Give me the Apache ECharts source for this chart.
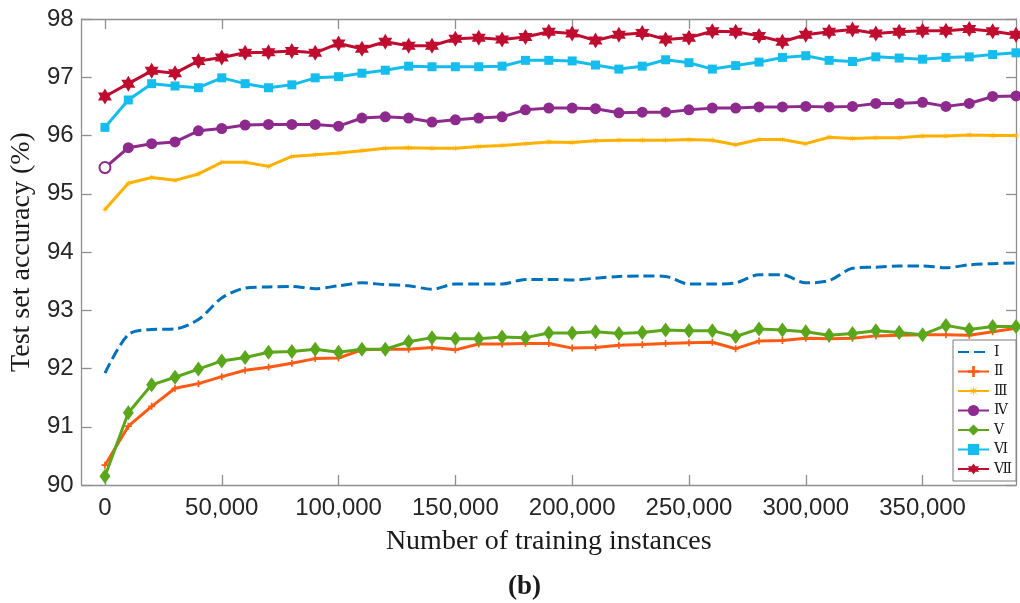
<!DOCTYPE html>
<html>
<head>
<meta charset="utf-8">
<script src="https://cdn.jsdelivr.net/npm/echarts@6/dist/echarts.min.js"></script>
<style>
html,body{margin:0;padding:0;background:#fff;}
#chart{width:1020px;height:603px;}
</style>
</head>
<body>
<div id="chart"></div>
<script>
// ---- Data ----
const xValues = [0,10000,20000,30000,40000,50000,60000,70000,80000,90000,100000,110000,120000,130000,140000,150000,160000,170000,180000,190000,200000,210000,220000,230000,240000,250000,260000,270000,280000,290000,300000,310000,320000,330000,340000,350000,360000,370000,380000,390000];
const xTicks = [0,50000,100000,150000,200000,250000,300000,350000];
const yTicks = [90,91,92,93,94,95,96,97,98];
const seriesNames = ['Ⅰ','Ⅱ','Ⅲ','Ⅳ','Ⅴ','Ⅵ','Ⅶ'];

const s1 = [91.92,92.58,92.67,92.68,92.84,93.21,93.38,93.40,93.41,93.37,93.42,93.47,93.44,93.42,93.36,93.45,93.45,93.45,93.53,93.53,93.52,93.55,93.58,93.59,93.58,93.45,93.45,93.47,93.61,93.61,93.47,93.51,93.72,93.74,93.76,93.76,93.73,93.78,93.80,93.81];
const s2 = [90.34,91.01,91.35,91.66,91.74,91.86,91.97,92.02,92.09,92.17,92.18,92.32,92.33,92.33,92.36,92.32,92.42,92.42,92.43,92.43,92.35,92.36,92.40,92.41,92.43,92.44,92.45,92.34,92.47,92.48,92.52,92.51,92.52,92.56,92.57,92.58,92.58,92.57,92.63,92.69];
const s3 = [94.73,95.18,95.28,95.23,95.34,95.54,95.54,95.47,95.64,95.67,95.70,95.74,95.78,95.79,95.78,95.78,95.81,95.83,95.86,95.89,95.88,95.91,95.92,95.92,95.92,95.93,95.92,95.84,95.93,95.93,95.86,95.97,95.95,95.96,95.96,95.99,95.99,96.01,96.00,96.00];
const s4 = [95.45,95.79,95.86,95.89,96.08,96.12,96.18,96.19,96.19,96.19,96.16,96.30,96.32,96.30,96.23,96.27,96.30,96.32,96.44,96.47,96.47,96.46,96.39,96.40,96.40,96.44,96.47,96.47,96.49,96.49,96.50,96.49,96.50,96.55,96.55,96.57,96.50,96.55,96.67,96.68];
const s5 = [90.15,91.24,91.72,91.85,91.99,92.13,92.19,92.28,92.29,92.33,92.28,92.33,92.33,92.46,92.53,92.51,92.51,92.54,92.53,92.61,92.61,92.63,92.60,92.62,92.66,92.65,92.65,92.55,92.68,92.66,92.63,92.57,92.60,92.65,92.62,92.58,92.74,92.67,92.72,92.72];
const s6 = [96.14,96.61,96.89,96.85,96.82,96.99,96.89,96.82,96.87,96.99,97.01,97.07,97.12,97.19,97.18,97.18,97.18,97.19,97.29,97.29,97.28,97.21,97.14,97.19,97.30,97.25,97.14,97.20,97.26,97.34,97.37,97.29,97.27,97.35,97.33,97.31,97.34,97.35,97.39,97.42];
const s7 = [96.67,96.89,97.11,97.07,97.28,97.34,97.42,97.43,97.45,97.42,97.58,97.49,97.61,97.54,97.54,97.66,97.68,97.65,97.69,97.78,97.75,97.63,97.73,97.76,97.65,97.68,97.79,97.78,97.71,97.61,97.73,97.78,97.82,97.75,97.78,97.80,97.80,97.83,97.79,97.73];

// ---- Styling ----
const colors = ['#0072BD','#FF5A14','#FFB000','#8E2A8E','#5BA71B','#14BDEE','#C00C2F'];
const hexagram = 'path://M100,0 L128.87,50 L186.6,50 L157.7,100 L186.6,150 L128.87,150 L100,200 L71.13,150 L13.4,150 L42.3,100 L13.4,50 L71.13,50 Z';
const plusSym = 'path://M38,0 H62 V38 H100 V62 H62 V100 H38 V62 H0 V38 H38 Z';
const asterSym = 'path://M100,50 L61.09,54.59 L85.36,85.36 L54.59,61.09 L50,100 L45.41,61.09 L14.64,85.36 L38.91,54.59 L0,50 L38.91,45.41 L14.64,14.64 L45.41,38.91 L50,0 L54.59,38.91 L85.36,14.64 L61.09,45.41 Z';

const symbols = ['none', plusSym, asterSym, 'circle', 'diamond', 'rect', hexagram];
const symbolSizes = [0, 7, 8, 11, [11,15], 9, [14,16]];
const allData = [s1,s2,s3,s4,s5,s6,s7];

const axisColor = '#8f8f8f';
const tickFont = "'Liberation Sans', Arial, sans-serif";
const serifFont = "'Liberation Serif', 'Times New Roman', serif";

const series = allData.map((vals, k) => {
  const data = vals.map((v, i) => [xValues[i], v]);
  if (k === 3) {
    data[0] = { value: data[0], itemStyle: { color: '#fff', borderColor: colors[3], borderWidth: 2 } };
  }
  return {
    name: seriesNames[k],
    type: 'line',
    xAxisIndex: 0,
    yAxisIndex: 0,
    data: data,
    symbol: symbols[k],
    symbolSize: symbolSizes[k],
    showSymbol: k !== 0,
    showAllSymbol: true,
    smooth: k === 0 ? 0.3 : false,
    color: colors[k],
    lineStyle: { width: 3, color: colors[k], type: k === 0 ? [11, 5] : 'solid' },
    itemStyle: { color: colors[k] },
    emphasis: { disabled: true },
    z: 2 + k
  };
});

const legendData = seriesNames.map((n, k) => k === 0
  ? { name: n, itemStyle: { color: 'rgba(0,0,0,0)', borderWidth: 0, opacity: 0 } }
  : { name: n });

const chart = echarts.init(document.getElementById('chart'), null, { renderer: 'canvas' });
const fmt = v => Number(v).toLocaleString('en-US');

chart.setOption({
  animation: false,
  backgroundColor: '#fff',
  grid: { left: 81, right: 4, top: 19, bottom: 118, containLabel: false },
  xAxis: [
    {
      type: 'value', position: 'bottom', min: -10000, max: 390000,
      name: 'Number of training instances', nameLocation: 'middle', nameGap: 43,
      nameTextStyle: { fontFamily: serifFont, fontSize: 28, color: '#1a1a1a' },
      axisLine: { show: true, onZero: false, lineStyle: { color: axisColor, width: 1.3 } },
      axisTick: { show: true, inside: true, length: 10, customValues: xTicks, lineStyle: { color: axisColor, width: 1.3 } },
      axisLabel: { customValues: xTicks, formatter: fmt, fontFamily: tickFont, fontSize: 24, color: '#262626', margin: 11 },
      splitLine: { show: false }
    },
    {
      type: 'value', position: 'top', min: -10000, max: 390000,
      axisLine: { show: true, onZero: false, lineStyle: { color: axisColor, width: 1.3 } },
      axisTick: { show: true, inside: true, length: 10, customValues: xTicks, lineStyle: { color: axisColor, width: 1.3 } },
      axisLabel: { show: false },
      splitLine: { show: false }
    }
  ],
  yAxis: [
    {
      type: 'value', position: 'left', min: 90, max: 98, interval: 1,
      name: 'Test set accuracy (%)', nameLocation: 'middle', nameGap: 35,
      nameTextStyle: { fontFamily: serifFont, fontSize: 28, color: '#1a1a1a' },
      axisLine: { show: true, onZero: false, lineStyle: { color: axisColor, width: 1.3 } },
      axisTick: { show: true, inside: true, length: 10, customValues: yTicks, lineStyle: { color: axisColor, width: 1.3 } },
      axisLabel: { customValues: yTicks, fontFamily: tickFont, fontSize: 24, color: '#262626', margin: 8 },
      splitLine: { show: false }
    },
    {
      type: 'value', position: 'right', min: 90, max: 98, interval: 1,
      axisLine: { show: true, onZero: false, lineStyle: { color: axisColor, width: 1.3 } },
      axisTick: { show: true, inside: true, length: 10, lineStyle: { color: axisColor, width: 1.3 } },
      axisLabel: { show: false },
      splitLine: { show: false }
    }
  ],
  legend: {
    data: legendData,
    orient: 'vertical',
    left: 953, top: 340,
    padding: [5, 4, 5, 4],
    itemWidth: 31, itemHeight: 14, itemGap: 5.5,
    backgroundColor: '#fff',
    borderColor: '#7a7a7a', borderWidth: 1, borderRadius: 0,
    textStyle: { fontFamily: "'DejaVu Serif', 'Liberation Serif', serif", fontSize: 14, color: '#1a1a1a', lineHeight: 14 },
    selectedMode: false
  },
  graphic: [
    {
      type: 'text', left: 508, top: 574,
      style: { text: '(b)', font: "bold 27px 'Liberation Serif', 'Times New Roman', serif", fill: '#1a1a1a' }
    }
  ],
  series: series
});
</script>
</body>
</html>
